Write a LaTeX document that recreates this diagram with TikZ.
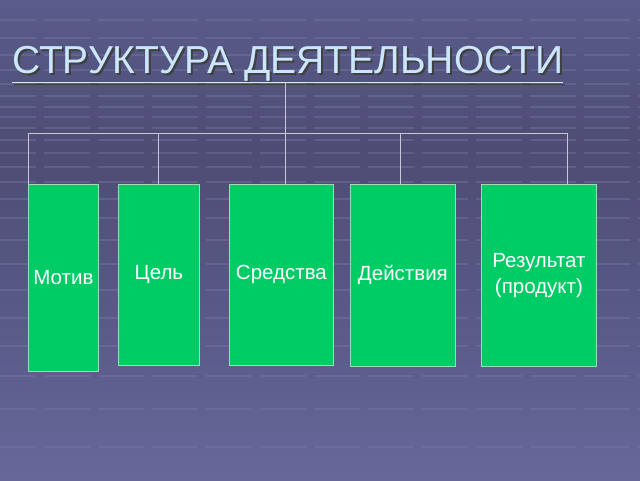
\documentclass[tikz,border=0pt]{standalone}
\usepackage{fontspec}
\setmainfont{Liberation Sans}
\usetikzlibrary{positioning}
\definecolor{bgtop}{HTML}{5C5C8C}
\definecolor{bgmid}{HTML}{4C4C74}
\definecolor{bgbot}{HTML}{67679A}
\definecolor{gridc}{HTML}{7A7AA8}
\definecolor{boxg}{HTML}{00CC66}
\definecolor{boxb}{HTML}{99DDBB}
\definecolor{titlec}{HTML}{CCE6FF}
\definecolor{linec}{HTML}{C8C8D8}
\tikzset{
  card/.style={draw=boxb, line width=0.8pt, fill=boxg, text=white, font=\fontsize{20.5}{26}\selectfont, align=center, inner sep=0pt, anchor=north west},
  conn/.style={draw=linec, line width=0.7pt},
  ttl/.style={anchor=base west, inner sep=0pt, font=\fontsize{39}{44}\selectfont},
}
\begin{document}
\begin{tikzpicture}[x=1pt,y=-1pt]
\useasboundingbox (0,0) rectangle (640,480);
\shade[top color=bgtop, bottom color=bgmid] (0,0) rectangle (640,150);
\shade[top color=bgmid, bottom color=bgbot] (0,150) rectangle (640,480);
\foreach \yy in {20,38,55,70,84,96,107,117,128,140,153,167,182,199,218,240,264,290,318,346,376,409,447}
  \draw[gridc, opacity=0.4, line width=1.2pt, dash pattern=on 46pt off 8pt] (-10,\yy) -- (650,\yy);
% title
\node[ttl, text=black!75] at (14,75) {\underline{СТРУКТУРА ДЕЯТЕЛЬНОСТИ}};
\node (title) [ttl, text=titlec] at (12,73) {\underline{СТРУКТУРА ДЕЯТЕЛЬНОСТИ}};
% boxes
\node (motiv) [card, minimum width=70pt, minimum height=187pt] at (28,184) {Мотив};
\node (cel) [card, minimum width=81pt, minimum height=181pt] at (118,184) {Цель};
\node (sred) [card, minimum width=104pt, minimum height=181pt] at (229,184) {Средства};
\node (deist) [card, minimum width=105pt, minimum height=182pt] at (350,184) {Действия};
\node (rez) [card, minimum width=115pt, minimum height=182pt] at (481,184) {Результат\\(продукт)};
% connectors
\coordinate (top) at (285,83);
\coordinate (busL) at (28,133);
\coordinate (busR) at (567,133);
\coordinate (busC) at (158,133);
\coordinate (busD) at (400,133);
\draw[conn] (busL) -- (busR);
\draw[conn] (top) -- (top |- sred.north);
\draw[conn] (busL) -- (motiv.north west);
\draw[conn] (busC) -- (busC |- cel.north);
\draw[conn] (busD) -- (busD |- deist.north);
\draw[conn] (busR) -- (busR |- rez.north);
\end{tikzpicture}
\end{document}
